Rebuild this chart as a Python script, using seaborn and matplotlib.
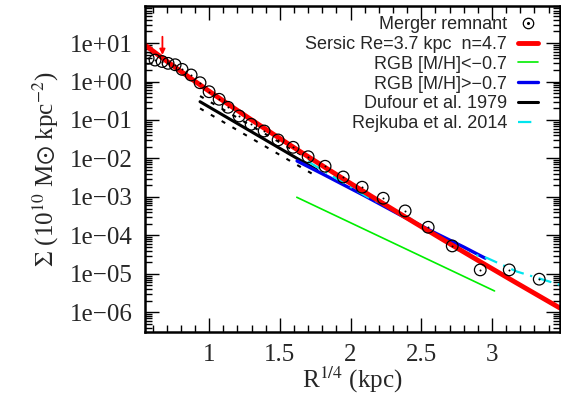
import numpy as np
import pandas as pd
import matplotlib
matplotlib.use("Agg")
import matplotlib.pyplot as plt
import seaborn as sns
from matplotlib.lines import Line2D
from matplotlib.legend_handler import HandlerTuple
from matplotlib.ticker import LogLocator, MultipleLocator, FuncFormatter, NullFormatter

# Merger remnant surface density profile (R^1/4 in kpc^1/4, Sigma in 1e10 Msun/kpc^2)
remnant_r14 = [0.569, 0.618, 0.668, 0.710, 0.760, 0.809, 0.873, 0.936, 1.000,
               1.071, 1.134, 1.212, 1.297, 1.389, 1.488, 1.594, 1.700, 1.820,
               1.948, 2.082, 2.231, 2.386, 2.549, 2.719, 2.917, 3.122, 3.334]
remnant_sigma = [4.01, 3.61, 3.31, 2.97, 2.73, 2.07, 1.48, 0.93, 0.543,
                 0.345, 0.214, 0.127, 0.0773, 0.0518, 0.0303, 0.0195, 0.0111, 0.00627,
                 0.00330, 0.00179, 9.25e-4, 4.33e-4, 1.63e-4, 5.33e-5, 1.27e-5, 1.27e-5, 7.28e-6]

# Sersic fit parameters
sersic_re = 3.7      # kpc
sersic_n = 4.7
sersic_sigma_e = 0.062

# RGB profiles split by metallicity
rgb_poor_r14 = [1.62, 3.018]
rgb_poor_sigma = [9.8e-4, 3.6e-6]
rgb_rich_r14 = [1.622, 1.80, 2.10, 2.351, 2.60, 2.80, 2.952]
rgb_rich_sigma = [8.6e-3, 4.0e-3, 1.07e-3, 3.4e-4, 1.15e-4, 5.0e-5, 2.56e-5]

# Dufour et al. 1979 profile and its uncertainty band
dufour_r14 = [0.936, 1.762]
dufour_sigma = [0.299, 5.02e-3]
dufour_hi_sigma = [0.42, 7.2e-3]
dufour_lo_sigma = [0.20, 3.4e-3]

# Rejkuba et al. 2014 profile
rejkuba_r14 = [1.70, 1.80, 2.115, 2.42, 2.75, 2.964, 3.176, 3.48]
rejkuba_sigma = [8.3e-3, 5.0e-3, 1.02e-3, 2.8e-4, 4.2e-5, 2.6e-5, 1.15e-5, 5.2e-6]

# Inner resolution marker
arrow_r14 = 0.67
arrow_top, arrow_tip = 14.6, 4.9

x_range = (0.547, 3.48)
y_range = (3.1e-7, 92.0)

sns.set_style("ticks")
plt.rcParams["font.family"] = ["Liberation Serif", "DejaVu Serif"]
plt.rcParams["mathtext.fontset"] = "stix"

fig = plt.figure(figsize=(5.61, 3.98), dpi=100)
ax = fig.add_axes([0.2585, 0.166, 0.7395, 0.819])

# Sersic model curve from the fitted parameters
b_n = 2 * sersic_n - 1 / 3 + 0.009876 / sersic_n
sx = np.linspace(x_range[0], x_range[1], 200)
sr = sx ** 4
ssig = sersic_sigma_e * np.exp(-b_n * ((sr / sersic_re) ** (1 / sersic_n) - 1))

dash_short = (0, (2, 4))
sns.lineplot(x=dufour_r14, y=dufour_sigma, ax=ax, color="black", lw=2.2, sort=False)
sns.lineplot(x=dufour_r14, y=dufour_hi_sigma, ax=ax, color="black", lw=1.5,
             sort=False, linestyle=dash_short)
sns.lineplot(x=dufour_r14, y=dufour_lo_sigma, ax=ax, color="black", lw=1.5,
             sort=False, linestyle=dash_short)
sns.lineplot(x=rgb_poor_r14, y=rgb_poor_sigma, ax=ax, color="#00ee00", lw=1.2, sort=False)
sns.lineplot(x=rgb_rich_r14, y=rgb_rich_sigma, ax=ax, color="#0000ee", lw=2.4, sort=False)
sns.lineplot(x=rejkuba_r14, y=rejkuba_sigma, ax=ax, color="#00e5ee", lw=1.6,
             sort=False, linestyle=(0, (6, 3, 1, 3)))
sns.lineplot(x=sx, y=ssig, ax=ax, color="#ff0000", lw=3.5, sort=False)

rem = pd.DataFrame({"r14": remnant_r14, "sigma": remnant_sigma})
sns.scatterplot(data=rem, x="r14", y="sigma", ax=ax, marker="o", s=70,
                facecolors="none", edgecolor="black", linewidth=0.9, zorder=5)
sns.scatterplot(data=rem, x="r14", y="sigma", ax=ax, marker="o", s=2,
                color="black", linewidth=0, zorder=5)

ax.annotate("", xy=(arrow_r14, arrow_tip), xytext=(arrow_r14, arrow_top),
            arrowprops=dict(arrowstyle="-|>", color="#ff0000", lw=1.3,
                            mutation_scale=8, shrinkA=0, shrinkB=0))

ax.set_yscale("log")
ax.set_xlim(*x_range)
ax.set_ylim(*y_range)

ax.xaxis.set_major_locator(MultipleLocator(0.5))
ax.xaxis.set_minor_locator(MultipleLocator(0.1))
ax.xaxis.set_major_formatter(FuncFormatter(lambda v, p: f"{v:g}"))
ax.yaxis.set_major_locator(LogLocator(base=10, numticks=20))
ax.yaxis.set_minor_locator(LogLocator(base=10, subs=np.arange(2, 10), numticks=20))
ax.yaxis.set_minor_formatter(NullFormatter())


def sci_label(v, pos):
    e = int(round(np.log10(v)))
    sign = "+" if e >= 0 else "\u2212"
    return f"1e{sign}{abs(e):02d}"


ax.yaxis.set_major_formatter(FuncFormatter(sci_label))

ax.tick_params(which="both", direction="in", top=True, right=True,
               labelsize=18, width=1.0, color="black")
ax.tick_params(which="major", length=10)
ax.tick_params(which="minor", length=5)
ax.tick_params(axis="y", pad=9)
ax.tick_params(axis="x", pad=9)
for s in ax.spines.values():
    s.set_linewidth(1.8)
    s.set_color("black")

ax.set_xlabel(r"R$^{1/4}$ (kpc)", fontsize=18, labelpad=-1.5)
ax.set_ylabel(r"$\Sigma$ (10$^{10}$ M$\odot$ kpc$^{-2}$)", fontsize=18, labelpad=6)

circ = Line2D([], [], marker="o", ls="none", mfc="none", mec="black", ms=7.5, mew=0.9)
dot = Line2D([], [], marker="o", ls="none", color="black", ms=1.2)
handles = [
    (circ, dot),
    Line2D([], [], color="#ff0000", lw=3.5),
    Line2D([], [], color="#00ee00", lw=1.2),
    Line2D([], [], color="#0000ee", lw=2.4),
    Line2D([], [], color="black", lw=2.2),
    Line2D([], [], color="#00e5ee", lw=1.6, linestyle=(0, (6, 3, 1, 3))),
]
labels = ["Merger remnant", "Sersic Re=3.7 kpc  n=4.7", "RGB [M/H]<\u22120.7",
          "RGB [M/H]>\u22120.7", "Dufour et al. 1979", "Rejkuba et al. 2014"]
leg = ax.legend(handles, labels, loc="upper right", frameon=False, markerfirst=False,
                handler_map={tuple: HandlerTuple(ndivide=1)},
                prop={"family": ["Liberation Sans", "DejaVu Sans"], "size": 13},
                handlelength=1.1, handletextpad=0.6, labelspacing=0.15,
                borderaxespad=0, borderpad=0, bbox_to_anchor=(0.947, 0.968))
for t in leg.get_texts():
    t.set_ha("right")
leg._legend_box.align = "right"

fig.savefig("out.png", dpi=100)
